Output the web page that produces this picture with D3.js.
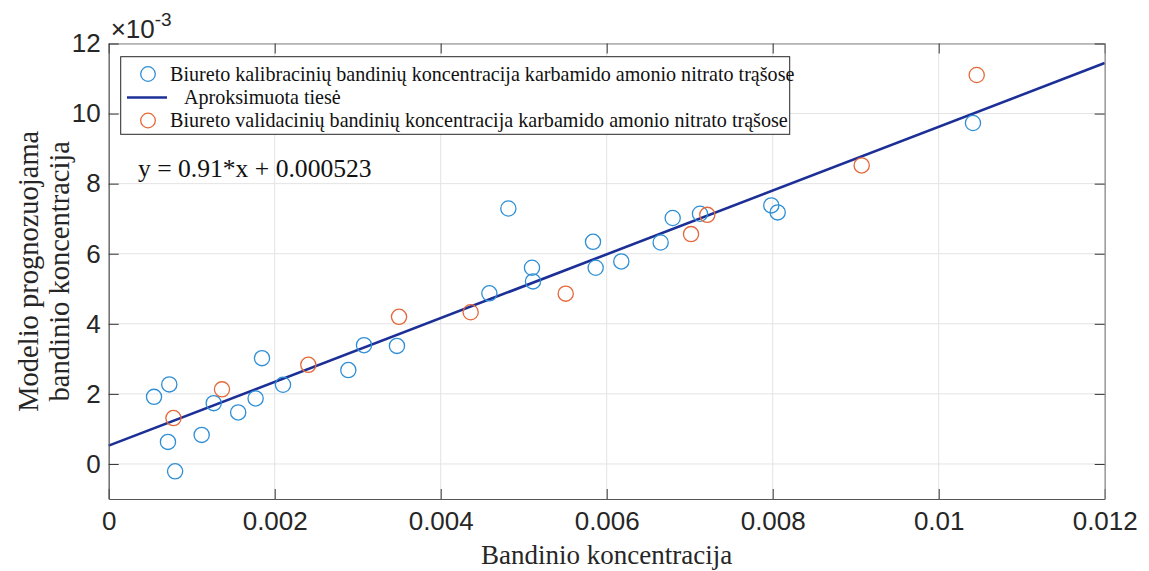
<!DOCTYPE html>
<html>
<head>
<meta charset="utf-8">
<script src="https://cdn.jsdelivr.net/npm/d3@7"></script>
<style>
  html, body { margin: 0; padding: 0; background: #fff; }
  svg { display: block; }
  .tick text { font-family: "Liberation Sans", Arial, sans-serif; }
  .serif { font-family: "Liberation Serif", "Times New Roman", serif; }
</style>
</head>
<body>
<svg id="chart" width="1149" height="571"></svg>
<script>
// Calibration samples (concentration, predicted concentration)
const calibX = [0.000546, 0.00073, 0.000714, 0.0008, 0.00112, 0.001265, 0.00156, 0.00177, 0.001847, 0.0021,
                0.002887, 0.003076, 0.003473, 0.004586, 0.004815, 0.0051, 0.005112, 0.005835, 0.005867, 0.006176,
                0.00665, 0.006795, 0.007124, 0.007983, 0.00806, 0.010413];
const calibY = [0.001915, 0.00227, 0.00063, -0.00021, 0.00083, 0.001735, 0.00147, 0.00187, 0.00302, 0.00226,
                0.00268, 0.00339, 0.00337, 0.00487, 0.00729, 0.0056, 0.00521, 0.00634, 0.0056, 0.00578,
                0.00632, 0.00702, 0.00714, 0.00738, 0.00718, 0.00973];
// Validation samples
const validX = [0.00078, 0.001365, 0.002405, 0.003498, 0.004361, 0.005506, 0.007016, 0.007212, 0.009072, 0.010458];
const validY = [0.00131, 0.00213, 0.00283, 0.0042, 0.00433, 0.00486, 0.00656, 0.00711, 0.00852, 0.0111];
// Fitted line y = slope*x + intercept
const slope = 0.91, intercept = 0.000523;
const fitX = [0, 0.012];

const xTicks = [0, 0.002, 0.004, 0.006, 0.008, 0.01, 0.012];
const xTickLabels = ["0", "0.002", "0.004", "0.006", "0.008", "0.01", "0.012"];
const yTicks = [0, 0.002, 0.004, 0.006, 0.008, 0.01, 0.012];
const yTickLabels = ["0", "2", "4", "6", "8", "10", "12"];

const legendLabels = [
  "Biureto kalibracinių bandinių koncentracija karbamido amonio nitrato trąšose",
  "   Aproksimuota tiesė",
  "Biureto validacinių bandinių koncentracija karbamido amonio nitrato trąšose"
];

const blue = "#2f8fd6", orange = "#e5683a", lineColor = "#1c2f96";

const svg = d3.select("#chart");
const L = 108.7, R = 1104.7, T = 43.5, B = 499;
const x = d3.scaleLinear().domain([0, 0.012]).range([L, R]);
const y = d3.scaleLinear().domain([-0.001, 0.012]).range([B, T]);

// grid
const grid = svg.append("g");
grid.selectAll(".gx").data(xTicks).join("line")
  .attr("x1", d => x(d)).attr("x2", d => x(d)).attr("y1", T).attr("y2", B)
  .attr("stroke", "#e3e3e3").attr("stroke-width", 1);
grid.selectAll(".gy").data(yTicks).join("line")
  .attr("y1", d => y(d)).attr("y2", d => y(d)).attr("x1", L).attr("x2", R)
  .attr("stroke", "#e3e3e3").attr("stroke-width", 1);

// fitted line
svg.append("path")
  .datum(fitX)
  .attr("d", d3.line().x(d => x(d)).y(d => y(slope * d + intercept)))
  .attr("stroke", lineColor).attr("stroke-width", 2.6).attr("fill", "none");

// markers
const calib = calibX.map((v, i) => [v, calibY[i]]);
const valid = validX.map((v, i) => [v, validY[i]]);
svg.append("g").selectAll("circle").data(calib).join("circle")
  .attr("cx", d => x(d[0])).attr("cy", d => y(d[1])).attr("r", 7.6)
  .attr("fill", "none").attr("stroke", blue).attr("stroke-width", 1.3);
svg.append("g").selectAll("circle").data(valid).join("circle")
  .attr("cx", d => x(d[0])).attr("cy", d => y(d[1])).attr("r", 7.6)
  .attr("fill", "none").attr("stroke", orange).attr("stroke-width", 1.3);

// axes
const tickLen = 10;
const fmtX = d => xTickLabels[xTicks.indexOf(d)];
const fmtY = d => yTickLabels[yTicks.indexOf(d)];
const axB = svg.append("g").attr("transform", `translate(0,${B})`)
  .call(d3.axisBottom(x).tickValues(xTicks).tickFormat(fmtX).tickSizeInner(-tickLen).tickSizeOuter(0).tickPadding(13));
const axT = svg.append("g").attr("transform", `translate(0,${T})`)
  .call(d3.axisTop(x).tickValues(xTicks).tickFormat("").tickSizeInner(-tickLen).tickSizeOuter(0));
const axL = svg.append("g").attr("transform", `translate(${L},0)`)
  .call(d3.axisLeft(y).tickValues(yTicks).tickFormat(fmtY).tickSizeInner(-tickLen).tickSizeOuter(0).tickPadding(8));
const axR = svg.append("g").attr("transform", `translate(${R},0)`)
  .call(d3.axisRight(y).tickValues(yTicks).tickFormat("").tickSizeInner(-tickLen).tickSizeOuter(0));
[axB, axT, axL, axR].forEach(g => {
  g.attr("font-size", 26);
  g.select(".domain").attr("stroke", "#555").attr("stroke-width", 1.2);
  g.selectAll(".tick line").attr("stroke", "#333");
  g.selectAll(".tick text").attr("font-size", 26).attr("fill", "#262626");
});
axB.selectAll(".tick text").attr("dy", "0.71em");
axT.select(".domain").attr("stroke", "#888");
axR.select(".domain").attr("stroke", "#888");

// exponent label
const ex = svg.append("text").attr("x", L + 2).attr("y", 38)
  .attr("font-family", "Liberation Sans, Arial, sans-serif").attr("font-size", 26).attr("fill", "#262626");
ex.append("tspan").text("×10");
ex.append("tspan").attr("font-size", 19).attr("dy", -12).text("-3");

// axis titles
svg.append("text").attr("class", "serif")
  .attr("x", (L + R) / 2).attr("y", 564).attr("text-anchor", "middle")
  .attr("font-size", 27).attr("fill", "#262626").text("Bandinio koncentracija");
const yl = svg.append("text").attr("class", "serif")
  .attr("transform", `translate(38,${(T + B) / 2}) rotate(-90)`)
  .attr("text-anchor", "middle").attr("font-size", 28.5).attr("fill", "#262626");
yl.append("tspan").attr("x", 0).attr("dy", 0).text("Modelio prognozuojama");
yl.append("tspan").attr("x", 0).attr("dy", 31).text("bandinio koncentracija");

// equation
svg.append("text").attr("class", "serif")
  .attr("x", 138).attr("y", 177).attr("font-size", 25.6).attr("fill", "#111")
  .text("y = 0.91*x + 0.000523");

// legend
const lg = svg.append("g");
lg.append("rect").attr("x", 120.7).attr("y", 56.7).attr("width", 669).attr("height", 77.6)
  .attr("fill", "#fff").attr("stroke", "#262626").attr("stroke-width", 1);
const rows = [74, 97.5, 120.5];
lg.append("circle").attr("cx", 148).attr("cy", rows[0]).attr("r", 7.3)
  .attr("fill", "none").attr("stroke", blue).attr("stroke-width", 1.3);
lg.append("line").attr("x1", 127).attr("x2", 167).attr("y1", rows[1]).attr("y2", rows[1])
  .attr("stroke", lineColor).attr("stroke-width", 2.6);
lg.append("circle").attr("cx", 148).attr("cy", rows[2]).attr("r", 7.3)
  .attr("fill", "none").attr("stroke", orange).attr("stroke-width", 1.3);
legendLabels.forEach((t, i) => {
  lg.append("text").attr("class", "serif").attr("x", 170).attr("y", rows[i] + 6.5)
    .attr("font-size", 20.1).attr("fill", "#111").attr("xml:space", "preserve")
    .style("white-space", "pre").text(t);
});
</script>
</body>
</html>
